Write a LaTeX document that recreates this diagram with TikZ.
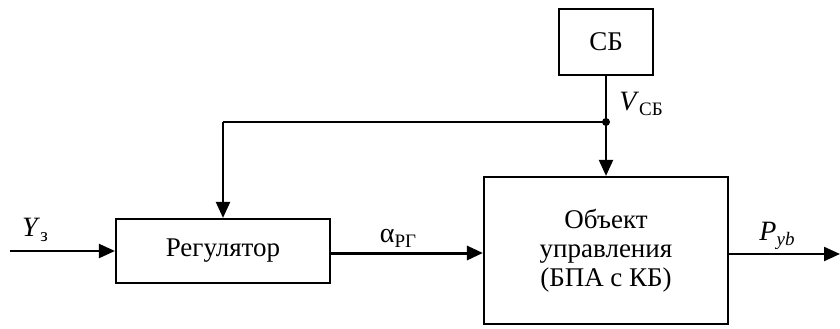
\documentclass[tikz,border=0pt]{standalone}
\usepackage{fontspec}
\setmainfont{Liberation Serif}
\usetikzlibrary{arrows.meta}
\newcommand{\lsub}[1]{\raisebox{-0.4ex}{\fontsize{19}{19}\selectfont #1}}
\begin{document}
\begin{tikzpicture}[x=1pt,y=-1pt,
  blk/.style={draw,line width=2.2pt,inner sep=0pt},
  conn/.style={line width=2.2pt,-{Triangle[length=16pt,width=14pt]}},
  wire/.style={line width=2.2pt},
  lbl/.style={font=\fontsize{28}{30}\selectfont,inner sep=0pt},
  txt/.style={font=\fontsize{27}{29}\selectfont,align=center}]
\useasboundingbox (0,0) rectangle (840,329);
\node[blk,minimum width=214pt,minimum height=64pt] (reg) at (223,251) {};
\node[txt] at (reg.center) {Регулятор};
\node[blk,minimum width=244pt,minimum height=147pt] (obj) at (606,250.5) {};
\node[txt] at (obj.center) {Объект\\управления\\(БПА с КБ)};
\node[blk,minimum width=94pt,minimum height=66pt] (sb) at (606,42) {};
\node[txt] at (sb.center) {СБ};
\coordinate (in) at (10,251);
\coordinate (out) at (840,254);
\coordinate (j) at (606,122);
\coordinate (c) at (223,122);
\draw[conn] (in) -- (reg.west);
\draw[conn] (sb.south) -- (obj.north);
\draw[wire] (j) -- (c);
\draw[conn] (c) -- (reg.north);
\draw[conn,line width=3pt] (reg.east |- 0,253) -- (obj.west |- 0,253);
\draw[conn] (obj.east |- out) -- (out);
\fill (j) circle (4pt);
\node[lbl] (ly) at (35,230) {\textit{Y}\lsub{з}};
\node[lbl] (la) at (398,238) {α\lsub{РГ}};
\node[lbl] (lv) at (641,104) {\textit{V}\lsub{СБ}};
\node[lbl] (lp) at (777,236) {\textit{P}\lsub{\textit{yb}}};
\end{tikzpicture}
\end{document}
